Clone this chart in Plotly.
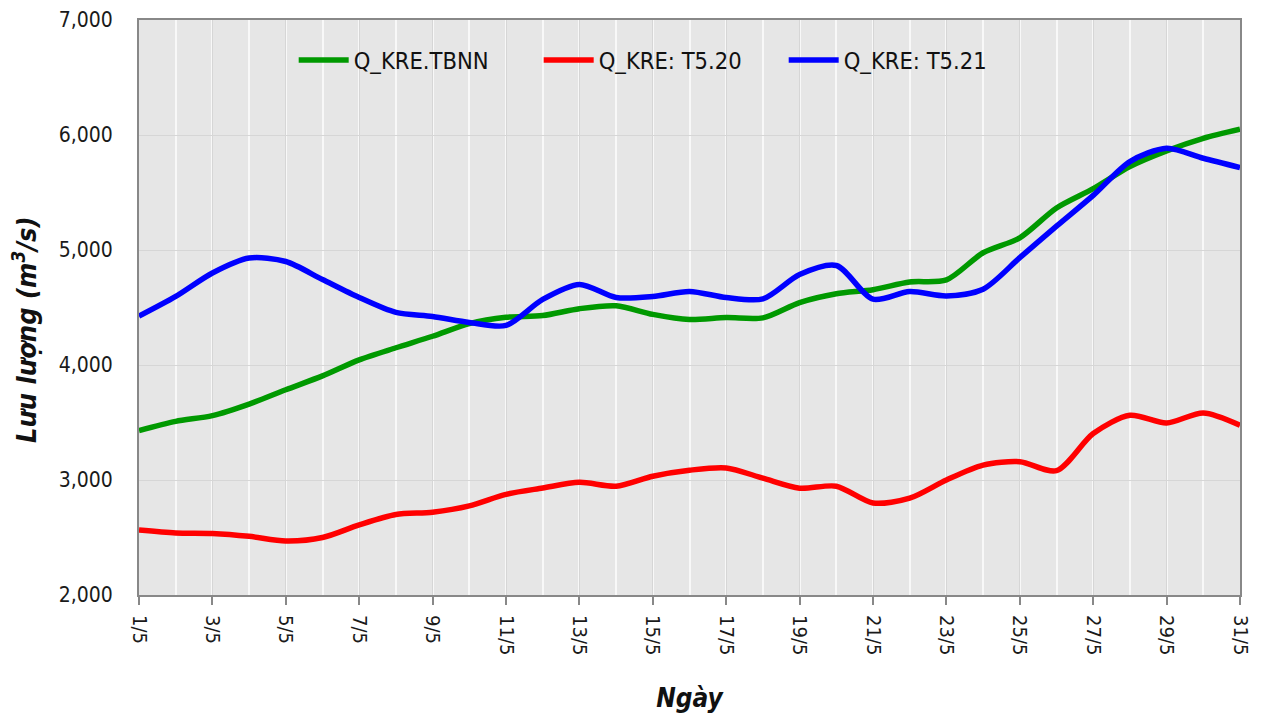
import plotly.graph_objects as go

days = list(range(1, 32))
day_labels = [f"{d}/5" for d in days]

q_tbnn = [3430, 3510, 3560, 3660, 3785, 3905, 4045, 4150, 4250, 4360, 4415,
          4430, 4490, 4515, 4440, 4395, 4412, 4410, 4543, 4620, 4655,
          4722, 4740, 4976, 5106, 5365, 5533, 5726, 5862, 5971, 6050]
q_t520 = [2565, 2540, 2535, 2510, 2470, 2500, 2610, 2700, 2720, 2775, 2875,
          2930, 2980, 2946, 3033, 3085, 3105, 3016, 2929, 2946, 2800,
          2842, 3000, 3130, 3159, 3081, 3404, 3563, 3496, 3583, 3476]
q_t521 = [4425, 4596, 4800, 4930, 4900, 4743, 4587, 4457, 4422, 4370, 4344,
          4570, 4700, 4587, 4596, 4640, 4587, 4575, 4787, 4865, 4572,
          4639, 4601, 4659, 4933, 5207, 5475, 5769, 5885, 5798, 5717]

series_names = ["Q_KRE.TBNN", "Q_KRE: T5.20", "Q_KRE: T5.21"]
series_colors = ["#009900", "#ff0000", "#0000ff"]

y_ticks = [2000, 3000, 4000, 5000, 6000, 7000]
x_ticks = days[::2]
x_ticklabels = day_labels[::2]

x_title = "Ngày"
y_title = "Lưu lượng (m<sup>3</sup>/s)"

font_c = "DejaVu Sans Condensed, Tahoma, DejaVu Sans, sans-serif"

fig = go.Figure()
for name, vals, col in zip(series_names, [q_tbnn, q_t520, q_t521], series_colors):
    fig.add_trace(go.Scatter(
        x=days, y=vals, name=name, mode="lines",
        line=dict(color=col, width=5.5, shape="spline", smoothing=0.8),
    ))

fig.update_layout(
    width=1253, height=705,
    margin=dict(l=131, r=21, t=12, b=118, autoexpand=False),
    paper_bgcolor="white",
    plot_bgcolor="#e6e6e6",
    font=dict(family=font_c, size=20, color="#1a1a1a"),
    showlegend=True,
    legend=dict(
        orientation="h", x=0.1405, y=0.93, xanchor="left", yanchor="middle",
        bgcolor="rgba(0,0,0,0)", font=dict(family=font_c, size=23.5, color="#111"),
        entrywidth=180, entrywidthmode="pixels", itemwidth=50, tracegroupgap=0,
    ),
    xaxis=dict(
        range=[1, 31], tickmode="array", tickvals=x_ticks, ticktext=x_ticklabels,
        tickangle=90, ticks="outside", ticklen=8, tickwidth=2, tickcolor="#888",
        ticklabelstandoff=6, automargin=False,
        showline=True, linecolor="#888", linewidth=2, mirror=True,
        showgrid=True, gridcolor="#d6d6d6", gridwidth=1,
        minor=dict(dtick=1, tick0=0, showgrid=True, gridcolor="#f8f8f8", gridwidth=2, ticks=""),
        tickfont=dict(family=font_c, size=20, color="#1a1a1a"),
        title=dict(text=f"<b><i>{x_title}</i></b>", font=dict(family=font_c, size=26, color="#111"),
                   standoff=34),
        zeroline=False,
    ),
    yaxis=dict(
        range=[2000, 7000], tickvals=y_ticks, tickformat=",d",
        ticks="", ticklabelstandoff=20, automargin=False,
        showline=True, linecolor="#888", linewidth=2, mirror=True,
        showgrid=True, gridcolor="#d6d6d6", gridwidth=1,
        tickfont=dict(family=font_c, size=21, color="#1a1a1a"),
        zeroline=False,
    ),
    annotations=[dict(
        text=f"<b><i>{y_title}</i></b>", textangle=-90,
        xref="paper", yref="paper", x=-0.1035, y=0.461,
        xanchor="center", yanchor="middle", showarrow=False,
        font=dict(family=font_c, size=27, color="#111"),
    )],
)

fig.write_html("out.html")
